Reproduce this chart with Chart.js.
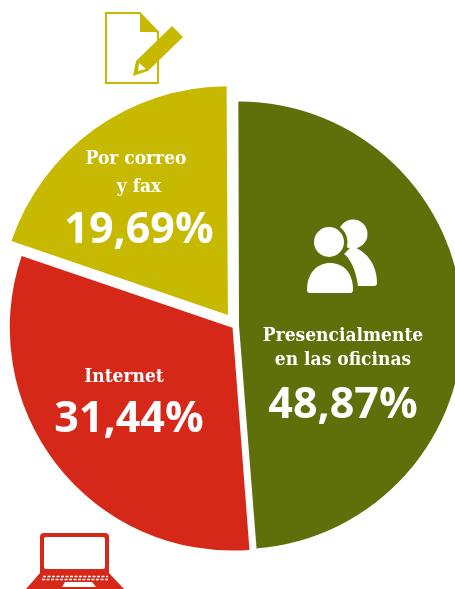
<!DOCTYPE html>
<html>
<head>
<meta charset="utf-8">
<style>
html, body { margin: 0; padding: 0; background: #fff; }
#wrap { position: relative; width: 455px; height: 589px; overflow: hidden; }
#icons { position: absolute; left: 0; top: 0; }
</style>
<script src="https://cdn.jsdelivr.net/npm/chart.js@4"></script>
</head>
<body>
<div id="wrap">
<canvas id="pieChart" width="455" height="589"></canvas>
<svg id="icons" width="455" height="589" viewBox="0 0 455 589">
  <!-- sheet and pencil -->
  <g fill="#c6b900">
    <path d="M105 12H140L159 32V84H105Z M107 14V82H157V33L139.500 14Z" fill-rule="evenodd"/>
    <path d="M140 12L159 32H140Z"/>
    <path d="M172 26L183 37L148 71L133 76L136 61Z"/>
    <path d="M139 63L146 69L138 71Z" fill="#fff"/>
  </g>
  <!-- laptop -->
  <g fill="#d62818">
    <path d="M44 533H105Q109 533 109 537V573H40V537Q40 533 44 533Z M46 537Q44 537 44 539V567Q44 569 46 569H103Q105 569 105 567V539Q105 537 103 537Z" fill-rule="evenodd"/>
    <path d="M40 573H109L124 589H26Z"/>
  </g>
  <g fill="none" stroke="#fff" stroke-width="1.500" stroke-dasharray="3 1.500">
    <path d="M43 576.500H108"/>
    <path d="M42 579.500H109"/>
  </g>
  <path d="M65 582H92L96 587H62Z" fill="#fff"/>
  <!-- people -->
  <g fill="#fff">
    <circle cx="353" cy="234" r="14.500"/>
    <path d="M352 246C368 252 377 266 377 283Q377 286 374 286H358C356 270 350 258 344 254Z"/>
  </g>
  <circle cx="329" cy="242" r="18.500" fill="#5f700a"/>
  <path d="M307 290C307 272 318 263 330 263C343 263 353 272 353 290Q353 293 350 293H310Q307 293 307 290Z" fill="#fff" stroke="#5f700a" stroke-width="7" paint-order="stroke"/>
  <circle cx="329" cy="242" r="15" fill="#fff"/>
</svg>
</div>
<script>
var categories = ['Presencialmente en las oficinas', 'Internet', 'Por correo y fax'];
var shares = [48.87, 31.44, 19.69];
var shareLabels = ['48,87%', '31,44%', '19,69%'];
var colors = ['#5f700a', '#d62818', '#c6b900'];
var sliceOffsets = [14, 15, 52];
var sliceRadius = [220.5, 222.5, 228];

// slice captions, written over the pie
var captions = [
    { lines: [['Presencialmente', 343, 341], ['en las oficinas', 343, 365]], pct: [343, 418] },
    { lines: [['Internet', 124, 382]], pct: [129, 432] },
    { lines: [['Por correo', 136, 164], ['y fax', 139, 192]], pct: [139, 243] }
];

var pieLook = {
    id: 'pieLook',
    afterDatasetUpdate: function(chart) {
        // each slice of the reference has its own radius
        chart.getDatasetMeta(0).data.forEach(function(arc, i) {
            arc.outerRadius = sliceRadius[i];
        });
    },
    afterDatasetsDraw: function(chart) {
        var ctx = chart.ctx;
        ctx.save();
        ctx.fillStyle = '#fff';
        ctx.textAlign = 'center';
        ctx.textBaseline = 'alphabetic';
        captions.forEach(function(c, i) {
            ctx.font = 'bold 19px "DejaVu Serif Condensed", "DejaVu Serif", serif';
            c.lines.forEach(function(line) {
                ctx.fillText(line[0], line[1], line[2]);
            });
            ctx.font = 'bold 43px "Open Sans", sans-serif';
            ctx.fillText(shareLabels[i], c.pct[0], c.pct[1]);
        });
        ctx.restore();
    }
};

var ctx = document.getElementById('pieChart').getContext('2d');
var myChart = new Chart(ctx, {
    type: 'pie',
    data: {
        labels: categories,
        datasets: [{
            data: shares,
            backgroundColor: colors,
            borderWidth: 0,
            offset: sliceOffsets,
            clip: false
        }]
    },
    options: {
        responsive: false,
        animation: false,
        rotation: -0.3,
        radius: 223,
        layout: { padding: { left: 16, top: 62 } },
        plugins: {
            legend: { display: false },
            tooltip: { enabled: false }
        }
    },
    plugins: [pieLook]
});
</script>
</body>
</html>
